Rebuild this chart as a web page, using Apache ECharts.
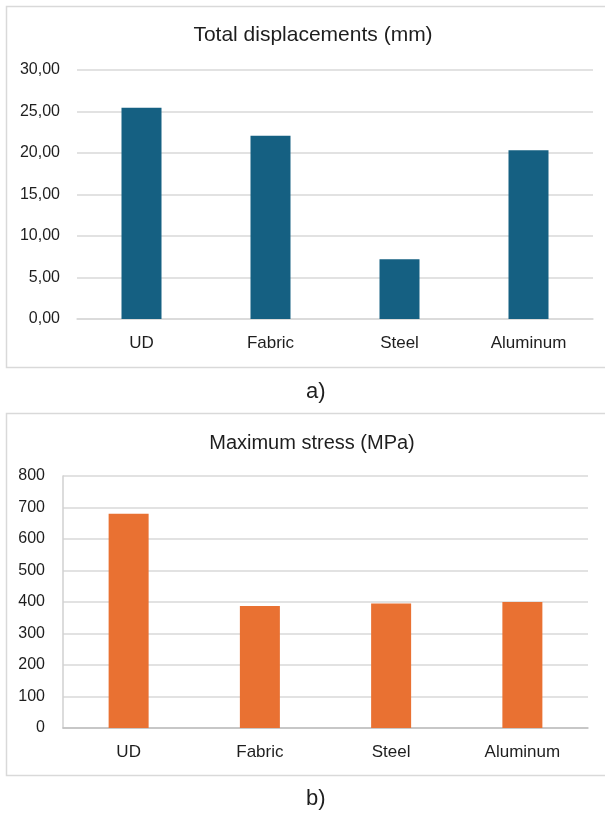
<!DOCTYPE html>
<html>
<head>
<meta charset="utf-8">
<script src="https://cdn.jsdelivr.net/npm/echarts@6/dist/echarts.min.js"></script>
<style>
html,body{margin:0;padding:0;background:#fff;}
#c{width:605px;height:813px;}
</style>
</head>
<body>
<div id="c"></div>
<script>
const categories = ['UD', 'Fabric', 'Steel', 'Aluminum'];
const displacements = [25.45, 22.08, 7.2, 20.32];
const stresses = [680, 387, 395, 400];
const dispTicks = [0, 5, 10, 15, 20, 25, 30];
const stressTicks = [0, 100, 200, 300, 400, 500, 600, 700, 800];

const txt = '#1e1e1e';
const gridCol = '#D9D9D9';
const font = '"Liberation Sans", Arial, sans-serif';

const chart = echarts.init(document.getElementById('c'), null, {renderer: 'canvas'});
chart.setOption({
  animation: false,
  backgroundColor: '#fff',
  textStyle: {fontFamily: font},
  title: [
    {text: 'Total displacements (mm)', left: 308, top: 20, textAlign: 'center',
     textStyle: {fontSize: 21, fontWeight: 'normal', color: txt, fontFamily: font}},
    {text: 'Maximum stress (MPa)', left: 307, top: 428, textAlign: 'center',
     textStyle: {fontSize: 20, fontWeight: 'normal', color: txt, fontFamily: font}}
  ],
  graphic: [
    {type: 'rect', shape: {x: 6.5, y: 6.5, width: 610, height: 361}, style: {fill: 'none', stroke: '#D9D9D9', lineWidth: 1.5}, z: -1},
    {type: 'rect', shape: {x: 6.5, y: 413.5, width: 610, height: 362}, style: {fill: 'none', stroke: '#D9D9D9', lineWidth: 1.5}, z: -1},
    {type: 'text', left: 306, top: 381, style: {text: 'a)', fontSize: 22, fill: txt, fontFamily: font}},
    {type: 'text', left: 306, top: 788, style: {text: 'b)', fontSize: 22, fill: txt, fontFamily: font}}
  ],
  grid: [
    {left: 77, right: 12, top: 70, height: 249},
    {left: 63, right: 17, top: 476, height: 252}
  ],
  xAxis: [
    {type: 'category', gridIndex: 0, data: categories,
     axisLine: {show: true, lineStyle: {color: gridCol, width: 1.5}},
     axisTick: {show: false},
     axisLabel: {color: txt, fontSize: 17, margin: 16, fontFamily: font}},
    {type: 'category', gridIndex: 1, data: categories,
     axisLine: {show: true, lineStyle: {color: '#BFBFBF', width: 1.5}},
     axisTick: {show: false},
     axisLabel: {color: txt, fontSize: 17, margin: 16, fontFamily: font}}
  ],
  yAxis: [
    {type: 'value', gridIndex: 0, min: dispTicks[0], max: dispTicks[dispTicks.length - 1], interval: 5,
     axisLine: {show: false}, axisTick: {show: false},
     splitLine: {lineStyle: {color: gridCol, width: 1.5}},
     axisLabel: {color: txt, fontSize: 16, margin: 17, fontFamily: font,
       formatter: v => v.toFixed(2).replace('.', ',')}},
    {type: 'value', gridIndex: 1, min: stressTicks[0], max: stressTicks[stressTicks.length - 1], interval: 100,
     axisLine: {show: true, lineStyle: {color: '#D0D0D0', width: 1.5}}, axisTick: {show: false},
     splitLine: {lineStyle: {color: gridCol, width: 1.5}},
     axisLabel: {color: txt, fontSize: 16, margin: 18, fontFamily: font}}
  ],
  series: [
    {type: 'bar', xAxisIndex: 0, yAxisIndex: 0, data: displacements, barWidth: 40,
     itemStyle: {color: '#156082'}},
    {type: 'bar', xAxisIndex: 1, yAxisIndex: 1, data: stresses, barWidth: 40,
     itemStyle: {color: '#E97132'}}
  ]
});
</script>
</body>
</html>
